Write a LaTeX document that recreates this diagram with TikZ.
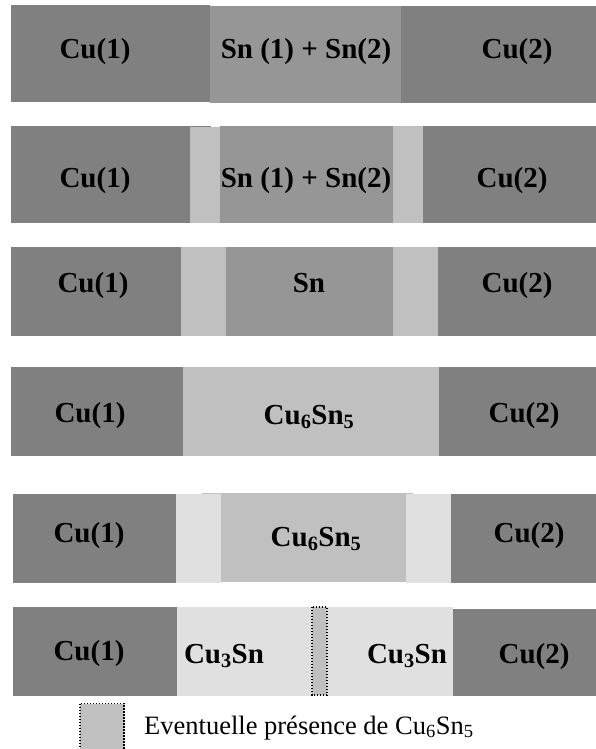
\documentclass[tikz,border=0pt]{standalone}
\usepackage{fontspec}
\setmainfont{Liberation Serif}
\definecolor{cugray}{HTML}{808080}
\definecolor{sngray}{HTML}{969696}
\definecolor{midgray}{HTML}{C0C0C0}
\definecolor{lightgray}{HTML}{E0E0E0}
\tikzset{
  lbl/.style={anchor=base, inner sep=0pt, font=\fontsize{29}{34}\selectfont\bfseries},
  legtext/.style={anchor=base west, inner sep=0pt, font=\fontsize{26.5}{31}\selectfont},
  cu/.style={fill=cugray},
  sn/.style={fill=sngray},
  mid/.style={fill=midgray},
  light/.style={fill=lightgray},
  dotbox/.style={fill=midgray, draw=black, line width=1.1pt, dash pattern=on 1.1pt off 1.9pt}
}
\begin{document}
\begin{tikzpicture}[x=1pt,y=-1pt]
\useasboundingbox (0,0) rectangle (596,749);
% Row 1
\path[cu] (11,5) rectangle (210,102);
\path[sn] (210,6) rectangle (401,103);
\path[cu] (401,6) rectangle (596,103);
\node[lbl] (r1a) at (95,59) {Cu(1)};
\node[lbl] (r1b) at (306,59) {Sn (1) + Sn(2)};
\node[lbl] (r1c) at (517,59) {Cu(2)};
% Row 2
\path[cu] (11,126) rectangle (211,223);
\path[mid] (190,127) rectangle (220,223);
\path[sn] (220,126) rectangle (393,223);
\path[mid] (393,126) rectangle (423,223);
\path[cu] (423,126) rectangle (596,223);
\node[lbl] (r2a) at (95,187) {Cu(1)};
\node[lbl] (r2b) at (306,187) {Sn (1) + Sn(2)};
\node[lbl] (r2c) at (512,187) {Cu(2)};
% Row 3
\path[cu] (11,247) rectangle (181,336);
\path[mid] (181,247) rectangle (226,336);
\path[sn] (226,247) rectangle (393,336);
\path[mid] (393,247) rectangle (438,336);
\path[cu] (438,247) rectangle (596,336);
\node[lbl] (r3a) at (93,292) {Cu(1)};
\node[lbl] (r3b) at (309,292) {Sn};
\node[lbl] (r3c) at (517,292) {Cu(2)};
% Row 4
\path[cu] (11,367) rectangle (183,456);
\path[mid] (183,367) rectangle (439,456);
\path[cu] (439,367) rectangle (596,456);
\node[lbl] (r4a) at (90,422) {Cu(1)};
\node[lbl] (r4b) at (309,424) {Cu\textsubscript{6}Sn\textsubscript{5}};
\node[lbl] (r4c) at (524,422) {Cu(2)};
% Row 5
\path[mid] (202,493) rectangle (413,582);
\path[cu] (13,494) rectangle (176,583);
\path[light] (176,494) rectangle (221,583);
\path[light] (406,494) rectangle (451,583);
\path[cu] (451,494) rectangle (596,583);
\node[lbl] (r5a) at (89,542) {Cu(1)};
\node[lbl] (r5b) at (316,546) {Cu\textsubscript{6}Sn\textsubscript{5}};
\node[lbl] (r5c) at (529,542) {Cu(2)};
% Row 6
\path[cu] (13,607) rectangle (177,696);
\path[light] (177,607) rectangle (453,696);
\path[cu] (453,609) rectangle (596,696);
\path[dotbox] (312,607) rectangle (327,695);
\node[lbl] (r6a) at (89,660) {Cu(1)};
\node[lbl] (r6b) at (224,663) {Cu\textsubscript{3}Sn};
\node[lbl] (r6c) at (407,663) {Cu\textsubscript{3}Sn};
\node[lbl] (r6d) at (534,663) {Cu(2)};
% Legend
\path[dotbox] (80,703.5) rectangle (124,752);
\node[legtext] (leg) at (144,734) {Eventuelle présence de Cu\textsubscript{6}Sn\textsubscript{5}};
\end{tikzpicture}
\end{document}
